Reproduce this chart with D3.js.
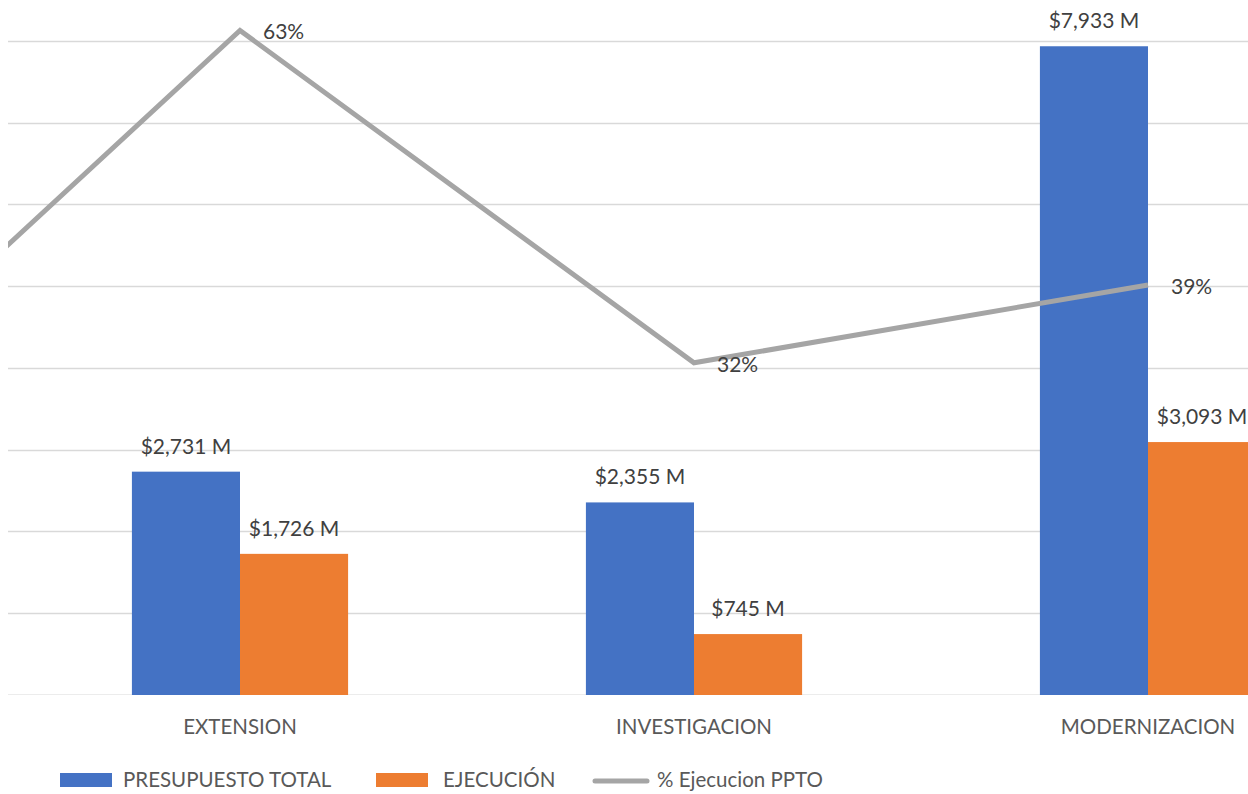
<!DOCTYPE html>
<html>
<head>
<meta charset="utf-8">
<script src="https://cdn.jsdelivr.net/npm/d3@7/dist/d3.min.js"></script>
<style>
  html, body { margin: 0; padding: 0; background: #fff; }
  svg { display: block; }
  text { font-family: "Lato", "Open Sans", sans-serif; }
</style>
</head>
<body>
<svg id="chart" width="1248" height="794"></svg>
<script>
// ---- Data ----
// The first category lies outside the visible crop; only its line segment shows.
const categories = ["", "EXTENSION", "INVESTIGACION", "MODERNIZACION"];
const presupuestoTotal = [null, 2731, 2355, 7933];   // $ millions
const ejecucion        = [null, 1726, 745, 3093];    // $ millions
const pctEjecucion     = [0.233, 0.632, 0.316, 0.390];
const seriesNames = ["PRESUPUESTO TOTAL", "EJECUCIÓN", "% Ejecucion PPTO"];
const primaryTicks = [0, 1000, 2000, 3000, 4000, 5000, 6000, 7000, 8000, 9000];

const colors = { blue: "#4472C4", orange: "#ED7D31", gray: "#A5A5A5", grid: "#D9D9D9",
                 label: "#404040", axis: "#595959" };

const W = 1248, H = 794;
const plot = { left: -441, right: 1375, top: -41, bottom: 695, visibleLeft: 8 };

const svg = d3.select("#chart");

const x0 = d3.scaleBand().domain(categories).range([plot.left, plot.right]).padding(0);
const x1 = d3.scaleBand().domain(["p", "e"]).range([0, x0.bandwidth()])
  .paddingInner(0).paddingOuter(1.1);
const y = d3.scaleLinear().domain([0, 9000]).range([plot.bottom, plot.top]);
const y2 = d3.scaleLinear().domain([0, 0.7]).range([plot.bottom, plot.top]);

// clip for plot area
svg.append("defs").append("clipPath").attr("id", "plotClip")
  .append("rect").attr("x", plot.visibleLeft).attr("y", plot.top)
  .attr("width", plot.right - plot.visibleLeft).attr("height", plot.bottom - plot.top);

// gridlines
const grid = svg.append("g").attr("clip-path", "url(#plotClip)");
grid.selectAll("line").data(primaryTicks).join("line")
  .attr("x1", plot.visibleLeft).attr("x2", plot.right)
  .attr("y1", d => Math.round(y(d)) + 0.5).attr("y2", d => Math.round(y(d)) + 0.5)
  .attr("stroke", colors.grid).attr("stroke-width", d => d === 0 ? 2 : 1.5);

// bars
const rows = categories.map((c, i) => ({ c, p: presupuestoTotal[i], e: ejecucion[i], pct: pctEjecucion[i] }));
const barRows = rows.filter(r => r.c !== "");
const barsG = svg.append("g");
[["p", colors.blue], ["e", colors.orange]].forEach(([k, col]) => {
  barsG.selectAll("rect.b" + k).data(barRows).join("rect")
    .attr("class", "b" + k)
    .attr("x", d => x0(d.c) + x1(k))
    .attr("width", x1.bandwidth())
    .attr("y", d => y(d[k]))
    .attr("height", d => y(0) - y(d[k]))
    .attr("fill", col);
});

// bar data labels
const fmt = v => "$" + d3.format(",")(v) + " M";
["p", "e"].forEach(k => {
  svg.append("g").selectAll("text").data(barRows).join("text")
    .attr("x", d => x0(d.c) + x1(k) + x1.bandwidth() / 2)
    .attr("y", d => y(d[k]) - 18)
    .attr("text-anchor", "middle")
    .attr("font-size", 21)
    .attr("fill", colors.label)
    .text(d => fmt(d[k]));
});

// line (secondary axis)
const cx = d => x0(d.c) + x0.bandwidth() / 2;
const line = d3.line().x(cx).y(d => y2(d.pct));
svg.append("g").attr("clip-path", "url(#plotClip)")
  .append("path").datum(rows)
  .attr("d", line)
  .attr("fill", "none")
  .attr("stroke", colors.gray)
  .attr("stroke-width", 5)
  .attr("stroke-linejoin", "miter");

svg.append("g").selectAll("text").data(barRows).join("text")
  .attr("x", d => cx(d) + 23)
  .attr("y", d => y2(d.pct) + 9)
  .attr("font-size", 21)
  .attr("fill", colors.label)
  .text(d => d3.format(".0%")(d.pct));

// category axis labels
svg.append("g").selectAll("text").data(barRows).join("text")
  .attr("x", d => cx(d))
  .attr("y", 734)
  .attr("text-anchor", "middle")
  .attr("font-size", 20.5)
  .attr("fill", colors.axis)
  .text(d => d.c);

// legend
const legend = svg.append("g");
const legendItems = [
  { name: seriesNames[0], type: "rect", color: colors.blue, sx: 60, tx: 123 },
  { name: seriesNames[1], type: "rect", color: colors.orange, sx: 376, tx: 443 },
  { name: seriesNames[2], type: "line", color: colors.gray, sx: 593, tx: 657 }
];
legendItems.forEach(it => {
  if (it.type === "rect") {
    legend.append("rect").attr("x", it.sx).attr("y", 773).attr("width", 52).attr("height", 14)
      .attr("fill", it.color);
  } else {
    legend.append("line").attr("x1", it.sx + 2).attr("x2", it.sx + 54).attr("y1", 781).attr("y2", 781)
      .attr("stroke", it.color).attr("stroke-width", 5).attr("stroke-linecap", "round");
  }
  legend.append("text").attr("x", it.tx).attr("y", 787)
    .attr("font-size", 20.5).attr("fill", colors.axis).text(it.name);
});
</script>
</body>
</html>
